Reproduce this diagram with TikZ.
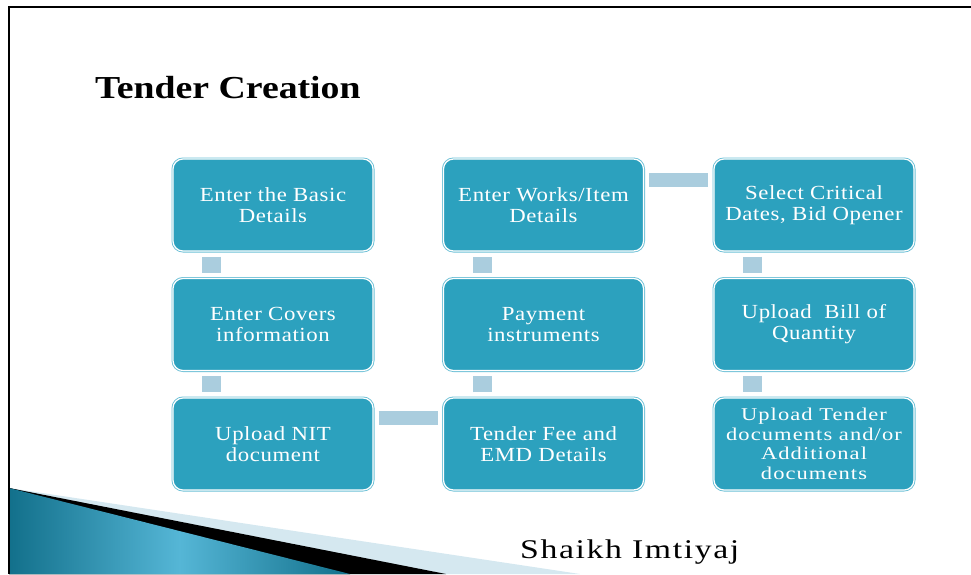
\documentclass[tikz,border=0pt]{standalone}
\usepackage{fontspec}
\setmainfont{Liberation Serif}
\newfontfamily\titlefont[FakeStretch=1.18]{Liberation Serif}
\newfontfamily\boxfont[FakeStretch=1.14,LetterSpace=3]{Liberation Serif}
\newfontfamily\namefont[FakeStretch=1.25,LetterSpace=6]{Liberation Serif}
\definecolor{boxteal}{HTML}{2CA1BE}
\definecolor{boxedge}{HTML}{6CC0D6}
\definecolor{linkblue}{HTML}{AACDDE}
\definecolor{swdark}{HTML}{12708B}
\definecolor{swlight}{HTML}{55B6D6}
\definecolor{swpale}{HTML}{D5E8F0}
\tikzset{
  stage/.style={rectangle,rounded corners=10pt,fill=boxteal,draw=white,line width=1.2pt,
    preaction={draw=boxedge,line width=3pt},
    minimum width=200pt,minimum height=92pt,inner sep=0pt,align=center,text=white,
    font=\boxfont\fontsize{20}{21}\selectfont},
  vlink/.style={draw=linkblue,line width=19pt,shorten <=5pt,shorten >=5pt},
  hlink/.style={draw=linkblue,line width=14pt,shorten <=5pt,shorten >=5pt},
}
\begin{document}
\begin{tikzpicture}[x=1pt,y=-1pt]
        \useasboundingbox (0,0) rectangle (971,574);
        % the swoosh at the bottom
        \fill[swpale] (9,488) -- (580,574) -- (9,574) -- cycle;
        \fill[black] (9,488) -- (446,574) -- (9,574) -- cycle;
        \fill[left color=swdark,right color=swdark,middle color=swlight] (9,488) -- (350,574) -- (9,574) -- cycle;
        \draw[line width=2.5pt] (9,574) -- (9,7) -- (971,7);
        % the title and the name
        \node[anchor=base west,inner sep=0pt,font=\titlefont\bfseries\fontsize{32}{34}\selectfont] (title) at (95,98) {Tender Creation};
        \node[anchor=base west,inner sep=0pt,font=\namefont\fontsize{27}{29}\selectfont] (author) at (520,558) {Shaikh Imtiyaj};
        % the steps
        \node[stage] (basic) at (273,205) {Enter the Basic\\Details};
        \node[stage] (covers) at (273,324.5) {Enter Covers\\information};
        \node[stage] (nit) at (273,444) {Upload NIT\\document};
        \node[stage] (fee) at (543.5,444) {Tender Fee and\\EMD Details};
        \node[stage] (payment) at (543.5,324.5) {Payment\\instruments};
        \node[stage] (works) at (543.5,205) {Enter Works/Item\\Details};
        \node[stage] (dates) at (814,205) {Select Critical\\Dates, Bid Opener};
        \node[stage] (boq) at (814,324.5) {Upload\ \ Bill of\\Quantity};
        \node[stage,font=\namefont\fontsize{18}{19.5}\selectfont] (docs) at (814,444) {Upload Tender\\documents and/or\\Additional\\documents};
        % the links
        \draw[vlink] ([xshift=39.5pt]basic.south west) -- ([xshift=39.5pt]covers.north west);
        \draw[vlink] ([xshift=39.5pt]covers.south west) -- ([xshift=39.5pt]nit.north west);
        \draw[hlink] ([yshift=-21pt]nit.north east) -- ([yshift=-21pt]fee.north west);
        \draw[vlink] ([xshift=39.5pt]fee.north west) -- ([xshift=39.5pt]payment.south west);
        \draw[vlink] ([xshift=39.5pt]payment.north west) -- ([xshift=39.5pt]works.south west);
        \draw[hlink] ([yshift=-22pt]works.north east) -- ([yshift=-22pt]dates.north west);
        \draw[vlink] ([xshift=39.5pt]dates.south west) -- ([xshift=39.5pt]boq.north west);
        \draw[vlink] ([xshift=39.5pt]boq.south west) -- ([xshift=39.5pt]docs.north west);
\end{tikzpicture}
\end{document}
